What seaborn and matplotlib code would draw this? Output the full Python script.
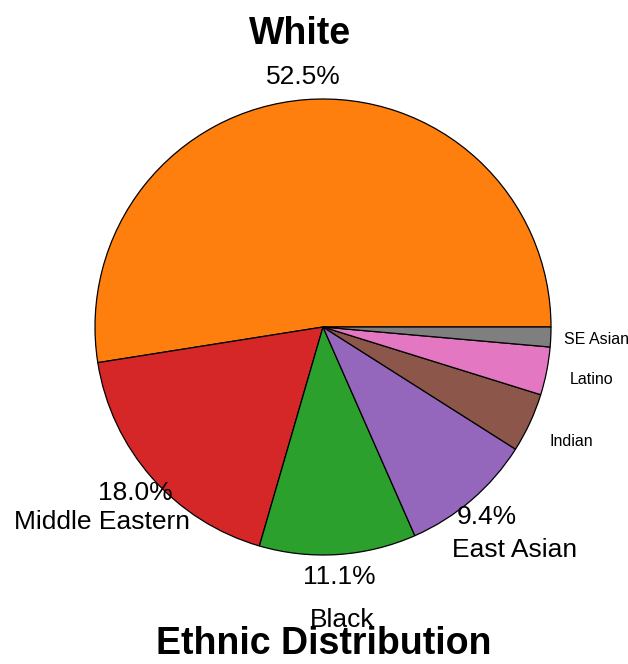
import matplotlib
matplotlib.use("Agg")
import matplotlib.pyplot as plt
import seaborn as sns
import numpy as np

categories = ["White", "Middle Eastern", "Black", "East Asian", "Indian", "Latino", "SE Asian"]
shares = [52.5, 18.0, 11.1, 9.4, 4.2, 3.4, 1.4]
palette_idx = [1, 3, 2, 4, 5, 6, 7]
title = "Ethnic Distribution"

sns.set_style("white")
plt.rcParams["font.family"] = ["Liberation Sans", "DejaVu Sans"]
plt.rcParams["text.color"] = "black"
tab = sns.color_palette("tab10")
colors = [tab[i] for i in palette_idx]

W, H = 628, 664
R = 228.0
cx, cy = 323.0, 327.0
fig = plt.figure(figsize=(W / 100, H / 100), dpi=100)
ax = fig.add_axes([0, 0, 1, 1])

def pct(p):
    return f"{p:.1f}%" if p >= 5 else ""

wedges, texts, autotexts = ax.pie(
    shares, labels=categories, colors=colors, autopct=pct,
    startangle=0, counterclock=True, labeldistance=1.29, pctdistance=1.1,
    wedgeprops=dict(edgecolor="black", linewidth=0.9),
    textprops=dict(fontsize=19, color="black"),
)
for t, s, name in zip(texts, shares, categories):
    t.set_horizontalalignment("center")
    if s < 5:
        t.set_fontsize(11.5)
        x, y = t.get_position()
        t.set_position((x * 1.20 / 1.29, y * 1.20 / 1.29))
    if name == "White":
        t.set_fontweight("bold")
        t.set_fontsize(27)
for a in autotexts:
    a.set_fontsize(19)
    a.set_color("black")

ax.set_aspect("auto")
ax.set_xlim(-cx / R, (W - cx) / R)
ax.set_ylim(-(H - cy) / R, cy / R)
ax.axis("off")

fig.text(324 / W, 1 - 644 / H, title, ha="center", va="center",
         fontsize=27, fontweight="bold", color="black")

fig.savefig("out.png", dpi=100)
